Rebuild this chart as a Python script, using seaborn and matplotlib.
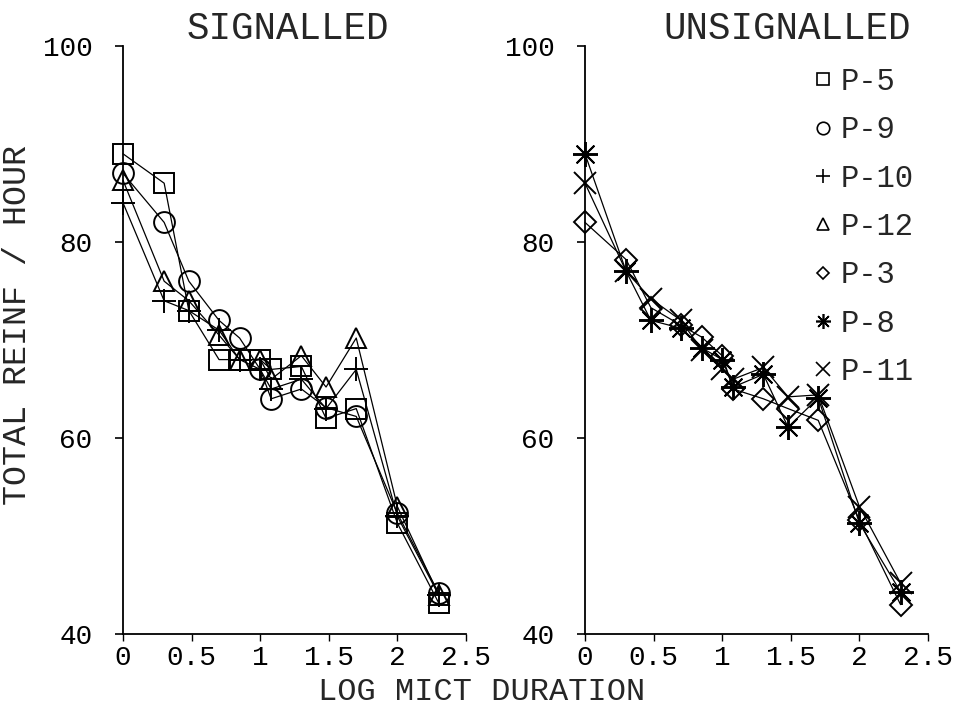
import numpy as np
import pandas as pd
import seaborn as sns
import matplotlib
matplotlib.use('Agg')
import matplotlib.pyplot as plt
from matplotlib.lines import Line2D

# log MICT duration (same for every bird)
log_mict = [0, 0.3, 0.48, 0.7, 0.85, 1.0, 1.08, 1.3, 1.48, 1.7, 2.0, 2.3]

# signalled group
p5 = [89, 86, 73, 68, 68, 68, 67, 67.3, 62, 63, 51.3, 43.2]
p9 = [87, 82, 76, 72, 70.2, 67, 64, 65, 63.1, 62.2, 52.3, 44.2]
p10 = [84, 74, 73, 71, 68, 67, 65, 66, 63, 67, 52, 44]
p12 = [86.3, 76, 74, 70.5, 68, 68, 66, 68.4, 65.2, 70.2, 53, 44]

# unsignalled group
p3 = [82, 78.2, 73.3, 71.5, 70.3, 68.4, 65, 64, 63, 61.8, 51.6, 43]
p8 = [89, 77, 72, 71.2, 69.2, 68, 65.2, 66.5, 61.1, 64.1, 51.3, 44.3]
p11 = [86, 77, 74.2, 72, 69, 67, 66, 67.2, 64.2, 64.4, 53, 45.2]

signalled = {'P-5': p5, 'P-9': p9, 'P-10': p10, 'P-12': p12}
unsignalled = {'P-3': p3, 'P-8': p8, 'P-11': p11}
markers = {'P-5': 's', 'P-9': 'o', 'P-10': '+', 'P-12': '^',
           'P-3': 'D', 'P-8': (8, 2, 0), 'P-11': 'x'}
msize = {'P-5': 15, 'P-9': 15, 'P-10': 17, 'P-12': 15,
         'P-3': 11, 'P-8': 18, 'P-11': 16}
legend_order = ['P-5', 'P-9', 'P-10', 'P-12', 'P-3', 'P-8', 'P-11']

sns.set_style('white')
plt.rcParams['font.family'] = ['Liberation Mono', 'DejaVu Sans']

fig = plt.figure(figsize=(9.55, 7.12), dpi=100)
ax1 = fig.add_axes([123 / 955, 78 / 712, 343 / 955, 588 / 712])
ax2 = fig.add_axes([585 / 955, 78 / 712, 343 / 955, 588 / 712])


def draw(ax, group):
    for name, vals in group.items():
        df = pd.DataFrame({'x': log_mict, 'y': vals})
        sns.lineplot(data=df, x='x', y='y', ax=ax, color='black',
                     marker=markers[name], markersize=msize[name],
                     markerfacecolor='none', markeredgecolor='black',
                     markeredgewidth=1.4, linewidth=0.9, clip_on=False,
                     legend=False)
    ax.set_xlim(0, 2.5)
    ax.set_ylim(40, 100)
    ax.set_xticks([0, 0.5, 1, 1.5, 2, 2.5])
    ax.set_xticklabels(['0', '0.5', '1', '1.5', '2', '2.5'])
    ax.set_yticks([40, 60, 80, 100])
    ax.set_xlabel('')
    ax.set_ylabel('')
    for s in ['top', 'right']:
        ax.spines[s].set_visible(False)
    for s in ['left', 'bottom']:
        ax.spines[s].set_color('black')
        ax.spines[s].set_linewidth(1.3)
    ax.tick_params(axis='y', direction='out', length=6, width=1.2,
                   pad=16, labelsize=20, colors='black', left=True)
    ax.tick_params(axis='x', direction='out', length=5, width=1.0,
                   pad=3, labelsize=20, colors='black', bottom=True)


draw(ax1, signalled)
draw(ax2, unsignalled)

fig.text(288 / 955, 1 - 29 / 712, 'SIGNALLED', ha='center', va='center',
         fontsize=27)
fig.text(787 / 955, 1 - 29 / 712, 'UNSIGNALLED', ha='center', va='center',
         fontsize=27)
fig.text(18 / 955, 1 - 325 / 712, 'TOTAL REINF / HOUR', rotation=90,
         ha='center', va='center', fontsize=24)
fig.text(482 / 955, 1 - 692 / 712, 'LOG MICT DURATION', ha='center',
         va='center', fontsize=23)

handles = [Line2D([], [], linestyle='none', marker=markers[n],
                  markersize=msize[n] * 0.6, markerfacecolor='none',
                  markeredgecolor='black', markeredgewidth=1.2)
           for n in legend_order]
ax2.legend(handles, legend_order, loc='upper left',
           bbox_to_anchor=(812 / 955, 1 - 67 / 712),
           bbox_transform=fig.transFigure, frameon=False, fontsize=22,
           handlelength=0.7, handletextpad=0.25, labelspacing=0.6,
           borderpad=0, borderaxespad=0)

fig.savefig('out.png', dpi=100)
